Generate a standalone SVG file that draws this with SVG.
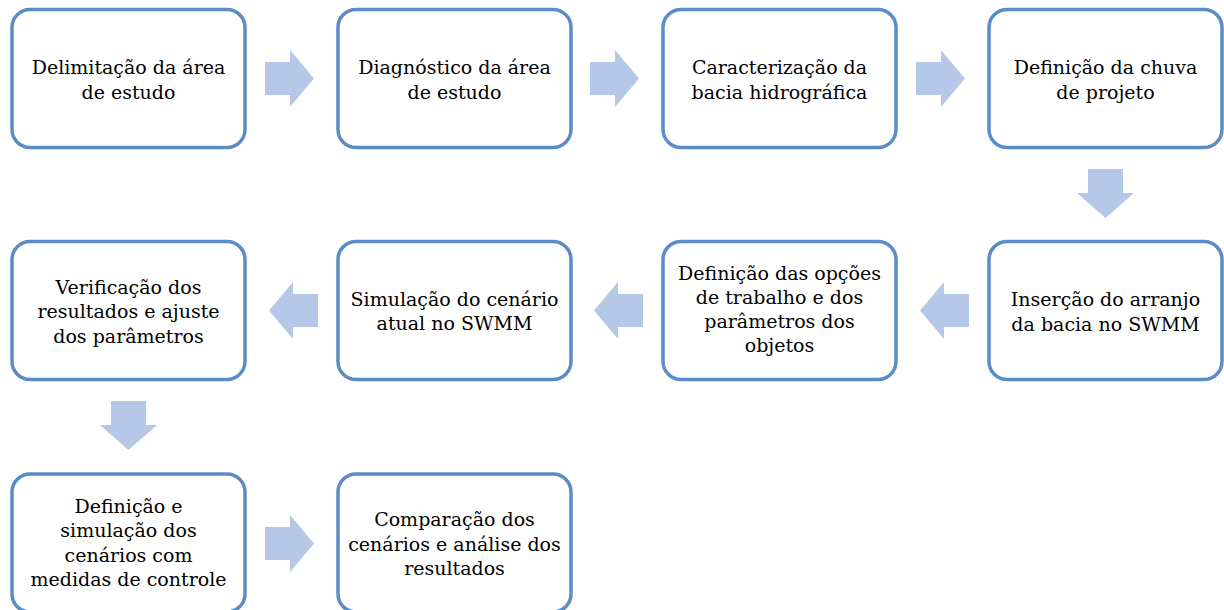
<svg xmlns="http://www.w3.org/2000/svg" width="1224" height="610" viewBox="0 0 1224 610">
<defs>
<polygon id="ar" points="265,62 290,62 290,50 314,78.5 290,107 290,95 265,95"/>
<polygon id="al" points="318,62 293,62 293,50 269,78.5 293,107 293,95 318,95"/>
<polygon id="ad" points="-17.5,0 17.5,0 17.5,24 28.5,24 0,49 -28.5,24 -17.5,24"/>
<rect id="bx" x="0" y="0" width="233" height="138" rx="18" fill="#ffffff" stroke="#5B8CC6" stroke-width="3.5"/>
</defs>
<rect width="1224" height="610" fill="#fff"/>
<g id="connectors" fill="#B5C8E8">
<use href="#ar"/>
<use href="#ar" x="325"/>
<use href="#ar" x="651"/>
<use href="#ad" transform="translate(1105.5,169)"/>
<use href="#al" y="232"/>
<use href="#al" x="325" y="232"/>
<use href="#al" x="651" y="232"/>
<use href="#ad" transform="translate(128.5,401)"/>
<use href="#ar" y="465"/>
</g>
<g id="n1"><use href="#bx" x="12" y="9.5"/>
<text x="128.5" y="74" font-family="DejaVu Serif, serif" font-size="19" text-anchor="middle">Delimitação da área</text><text x="128.5" y="99" font-family="DejaVu Serif, serif" font-size="19" text-anchor="middle">de estudo</text></g>
<g id="n2"><use href="#bx" x="338" y="9.5"/>
<text x="454.5" y="74" font-family="DejaVu Serif, serif" font-size="19" text-anchor="middle">Diagnóstico da área</text><text x="454.5" y="99" font-family="DejaVu Serif, serif" font-size="19" text-anchor="middle">de estudo</text></g>
<g id="n3"><use href="#bx" x="663" y="9.5"/>
<text x="779.5" y="74" font-family="DejaVu Serif, serif" font-size="19" text-anchor="middle">Caracterização da</text><text x="779.5" y="99" font-family="DejaVu Serif, serif" font-size="19" text-anchor="middle">bacia hidrográfica</text></g>
<g id="n4"><use href="#bx" x="989" y="9.5"/>
<text x="1105.5" y="74" font-family="DejaVu Serif, serif" font-size="19" text-anchor="middle">Definição da chuva</text><text x="1105.5" y="99" font-family="DejaVu Serif, serif" font-size="19" text-anchor="middle">de projeto</text></g>
<g id="n5"><use href="#bx" x="989" y="241.5"/>
<text x="1105.5" y="306" font-family="DejaVu Serif, serif" font-size="19" text-anchor="middle">Inserção do arranjo</text><text x="1105.5" y="331" font-family="DejaVu Serif, serif" font-size="19" text-anchor="middle">da bacia no SWMM</text></g>
<g id="n6"><use href="#bx" x="663" y="241.5"/>
<text x="779.5" y="280" font-family="DejaVu Serif, serif" font-size="19" text-anchor="middle">Definição das opções</text><text x="779.5" y="304" font-family="DejaVu Serif, serif" font-size="19" text-anchor="middle">de trabalho e dos</text><text x="779.5" y="328" font-family="DejaVu Serif, serif" font-size="19" text-anchor="middle">parâmetros dos</text><text x="779.5" y="352" font-family="DejaVu Serif, serif" font-size="19" text-anchor="middle">objetos</text></g>
<g id="n7"><use href="#bx" x="338" y="241.5"/>
<text x="454.5" y="306" font-family="DejaVu Serif, serif" font-size="19" text-anchor="middle">Simulação do cenário</text><text x="454.5" y="330" font-family="DejaVu Serif, serif" font-size="19" text-anchor="middle">atual no SWMM</text></g>
<g id="n8"><use href="#bx" x="12" y="241.5"/>
<text x="128.5" y="294" font-family="DejaVu Serif, serif" font-size="19" text-anchor="middle">Verificação dos</text><text x="128.5" y="318" font-family="DejaVu Serif, serif" font-size="19" text-anchor="middle">resultados e ajuste</text><text x="128.5" y="343" font-family="DejaVu Serif, serif" font-size="19" text-anchor="middle">dos parâmetros</text></g>
<g id="n9"><use href="#bx" x="12" y="474"/>
<text x="128.5" y="513" font-family="DejaVu Serif, serif" font-size="19" text-anchor="middle">Definição e</text><text x="128.5" y="537" font-family="DejaVu Serif, serif" font-size="19" text-anchor="middle">simulação dos</text><text x="128.5" y="562" font-family="DejaVu Serif, serif" font-size="19" text-anchor="middle">cenários com</text><text x="128.5" y="586" font-family="DejaVu Serif, serif" font-size="19" text-anchor="middle">medidas de controle</text></g>
<g id="n10"><use href="#bx" x="338" y="474"/>
<text x="454.5" y="526" font-family="DejaVu Serif, serif" font-size="19" text-anchor="middle">Comparação dos</text><text x="454.5" y="551" font-family="DejaVu Serif, serif" font-size="19" text-anchor="middle">cenários e análise dos</text><text x="454.5" y="575" font-family="DejaVu Serif, serif" font-size="19" text-anchor="middle">resultados</text></g>
</svg>
